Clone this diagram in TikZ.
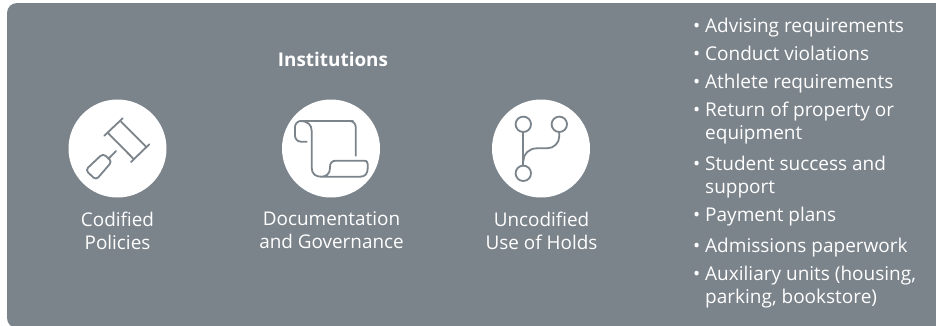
\documentclass[tikz,border=0pt]{standalone}
\usepackage{fontspec}
\setmainfont{Open Sans}
\definecolor{panel}{HTML}{7B838B}
\definecolor{ink}{HTML}{7B838B}
\begin{document}
\begin{tikzpicture}[x=1pt,y=-1pt,
  disc/.style={circle,fill=white,draw=none,minimum size=98pt,inner sep=0pt},
  label/.style={text=white,font=\fontsize{18.9}{23}\selectfont,align=center,anchor=center,inner sep=0pt},
  item/.style={text=white,font=\fontsize{19}{23}\selectfont,anchor=base west,inner sep=0pt},
  bulletmark/.style={text=white,font=\fontsize{19}{23}\selectfont,anchor=base west,inner sep=0pt},
  icon/.style={draw=ink,line width=1.8pt,line cap=round,line join=round}]
\useasboundingbox (0,0) rectangle (936,325);
\fill[white] (0,0) rectangle (936,325);
\clip (0,0) rectangle (936,325);
\fill[panel,rounded corners=10pt] (7,3) rectangle (950,328);
\node[text=white,font=\bfseries\fontsize{18.9}{23}\selectfont,inner sep=0pt] (title) at (333,59) {Institutions};
\node[disc] (d1) at (117.5,148.5) {};
\node[disc] (d2) at (331,148.5) {};
\node[disc] (d3) at (541,148.5) {};
\node[label] (l1) at (117.5,230.5) {Codified\\Policies};
\node[label] (l2) at (331.5,230.5) {Documentation\\and Governance};
\node[label] (l3) at (541.5,230.5) {Uncodified\\Use of Holds};
% gavel
\draw[icon] (104.3,135.7) -- (122.7,118.3);
\draw[icon] (131,162) -- (149.3,144.3);
\draw[icon] (108.3,133.3) -- (133.5,158.8);
\draw[icon] (121,121.7) -- (146,146.7);
\draw[icon] (116,151) -- (108.3,159);
\draw[icon,rounded corners=3.5pt] (103,153.5) -- (112,161.5) -- (96,180) -- (85.5,170) -- cycle;
% scroll
\draw[icon,rounded corners=6pt] (306.7,141.7) -- (295,141.7) -- (295,121) -- (347,121) -- (355.7,121) -- (355.7,155.7);
\draw[icon] (300,121) .. controls (308,121) and (311.7,125) .. (311.7,131) -- (311.7,168) .. controls (311.7,174) and (316,176.7) .. (321,176.7) -- (360,176.7) .. controls (365,176.7) and (367.7,174) .. (367.7,168) -- (367.7,164) .. controls (367.7,161) and (366,160.7) .. (364,160.7) -- (336,160.7) .. controls (332,160.7) and (330,163) .. (330,167) -- (330,168) .. controls (330,174) and (326,176.7) .. (321,176.7);
% branch
\draw[icon] (523.3,124.3) circle (7.7);
\draw[icon] (559.3,124.3) circle (7.7);
\draw[icon] (523.3,173.3) circle (7.7);
\draw[icon] (523.3,132) -- (523.3,165.7);
\draw[icon] (559.3,132) -- (559.3,136) .. controls (559.3,143) and (554,148.3) .. (547,148.3) -- (537,148.3) .. controls (529,148.3) and (523.3,154) .. (523.3,161);
% list
\foreach \yy/\tt in {32.6/Advising requirements,60.6/Conduct violations,88.6/Athlete requirements,116.6/Return of property or,139.6/equipment,170.6/Student success and,193.6/support,221.6/Payment plans,252.6/Admissions paperwork,280.6/{Auxiliary units (housing,},303.6/{parking, bookstore)}}{
  \node[item] at (705,\yy) {\tt};
}
\foreach \yy in {32.6,60.6,88.6,116.6,170.6,221.6,252.6,280.6}{
  \node[bulletmark] at (693,\yy) {•};
}
\end{tikzpicture}
\end{document}
